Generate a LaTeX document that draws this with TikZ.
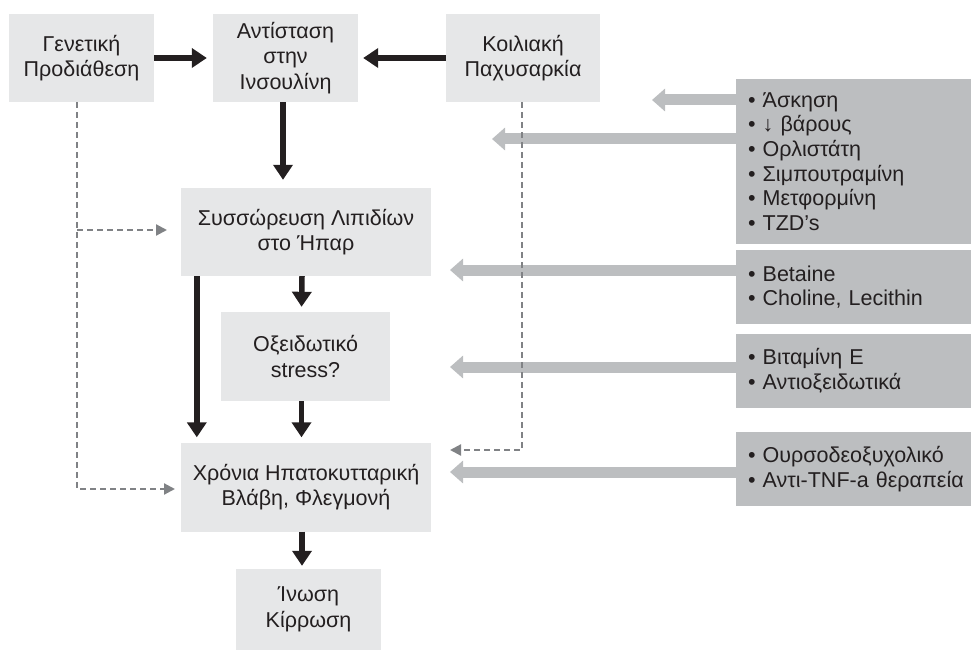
\documentclass[tikz,border=0pt]{standalone}
\usepackage{fontspec}
\setmainfont{Liberation Sans}
\usetikzlibrary{arrows.meta,calc}
\definecolor{boxl}{HTML}{E6E7E8}
\definecolor{boxd}{HTML}{BCBEC0}
\definecolor{ink}{HTML}{231F20}
\definecolor{dotc}{HTML}{808285}
\definecolor{fatc}{HTML}{BCBEC0}
\begin{document}
\begin{tikzpicture}[x=1pt,y=-1pt,
 lbox/.style={fill=boxl, draw=none, inner sep=0pt, align=center, text=ink, font=\fontsize{21.5}{25.5}\selectfont},
 rbox/.style={fill=boxd, draw=none, inner xsep=12pt, inner ysep=0pt, text width=211pt, minimum width=235pt, align=left, text=ink, font=\fontsize{21.5}{24.6}\selectfont},
 blk/.style={draw=ink, line width=5.5pt, -{Triangle[width=19pt,length=15pt]}},
 fatarrow/.style={draw=fatc, line width=11pt, -{Triangle[width=22pt,length=13pt]}},
 dotarrow/.style={draw=dotc, line width=2.2pt, dash pattern=on 6pt off 4pt, -{Triangle[width=11pt,length=11pt]}}]
\useasboundingbox (0,0) rectangle (971,652);
% left boxes
\node[lbox, minimum width=145pt, minimum height=88pt] (gen) at (81.5,58) {Γενετική\\Προδιάθεση};
\node[lbox, minimum width=145pt, minimum height=88pt] (ant) at (285.5,58) {Αντίσταση\\στην\\Ινσουλίνη};
\node[lbox, minimum width=154pt, minimum height=88pt] (koi) at (523,58) {Κοιλιακή\\Παχυσαρκία};
\node[lbox, minimum width=250pt, minimum height=88pt] (sys) at (306,232) {Συσσώρευση Λιπιδίων\\στο Ήπαρ};
\node[lbox, minimum width=169pt, minimum height=89pt] (oxi) at (305.5,356.5) {Οξειδωτικό\\stress?};
\node[lbox, minimum width=250pt, minimum height=89pt] (xro) at (306,487) {Χρόνια Ηπατοκυτταρική\\Βλάβη, Φλεγμονή};
\node[lbox, minimum width=145pt, minimum height=81pt] (ino) at (308.5,609.5) {Ίνωση\\Κίρρωση};
% right boxes
\node[rbox, minimum height=165pt] (r1) at (853.5,161.5) {• Άσκηση\\• ↓ βάρους\\• Ορλιστάτη\\• Σιμπουτραμίνη\\• Μετφορμίνη\\• TZD’s};
\node[rbox, minimum height=74pt] (r2) at (853.5,287) {• Betaine\\• Choline, Lecithin};
\node[rbox, minimum height=74pt] (r3) at (853.5,371) {• Βιταμίνη Ε\\• Αντιοξειδωτικά};
\node[rbox, minimum height=74pt] (r4) at (853.5,469) {\mbox{• Ουρσοδεοξυχολικό}\\\mbox{• Αντι-TNF-a θεραπεία}};
% free ends
\coordinate (t1) at (652,100);
\coordinate (t2) at (492,139);
\coordinate (t3) at (450,270);
\coordinate (t4) at (450,367);
\coordinate (t5) at (450,472);
\coordinate (t6) at (167,230);
\coordinate (t7) at (175,489);
\coordinate (t8) at (450,450);
% gray fat arrows
\draw[fatarrow] (r1.west |- t1) -- (t1);
\draw[fatarrow] (r1.west |- t2) -- (t2);
\draw[fatarrow] (r2.west |- t3) -- (t3);
\draw[fatarrow] (r3.west |- t4) -- (t4);
\draw[fatarrow] (r4.west |- t5) -- (t5);
% black arrows
\draw[blk, shorten >=6pt] (gen.east) -- (ant.west);
\draw[blk, shorten >=5pt] (koi.west) -- (ant.east);
\draw[blk, shorten >=8pt] ([xshift=-2.5pt]ant.south) -- ([xshift=-2.5pt]ant.south |- sys.north);
\draw[blk, shorten >=5pt] ([xshift=-4pt]sys.south) -- ([xshift=-4pt]oxi.north);
\draw[blk, shorten >=5pt] ([xshift=16pt]sys.south west) -- ([xshift=16pt]xro.north west);
\draw[blk, shorten >=5pt] ([xshift=-4pt]oxi.south) -- ([xshift=-4pt]oxi.south |- xro.north);
\draw[blk, shorten >=3pt] ([xshift=-4pt]xro.south) -- ([xshift=-4pt]xro.south |- ino.north);
% dotted arrows
\draw[dotarrow] ([xshift=-4.5pt]gen.south) -- ([xshift=-4.5pt]gen.south |- t7) -- (t7);
\draw[dotarrow] ([xshift=-4.5pt]gen.south |- t6) -- (t6);
\draw[dotarrow] ([xshift=-1pt]koi.south) -- ([xshift=-1pt]koi.south |- t8) -- (t8);
\end{tikzpicture}
\end{document}
